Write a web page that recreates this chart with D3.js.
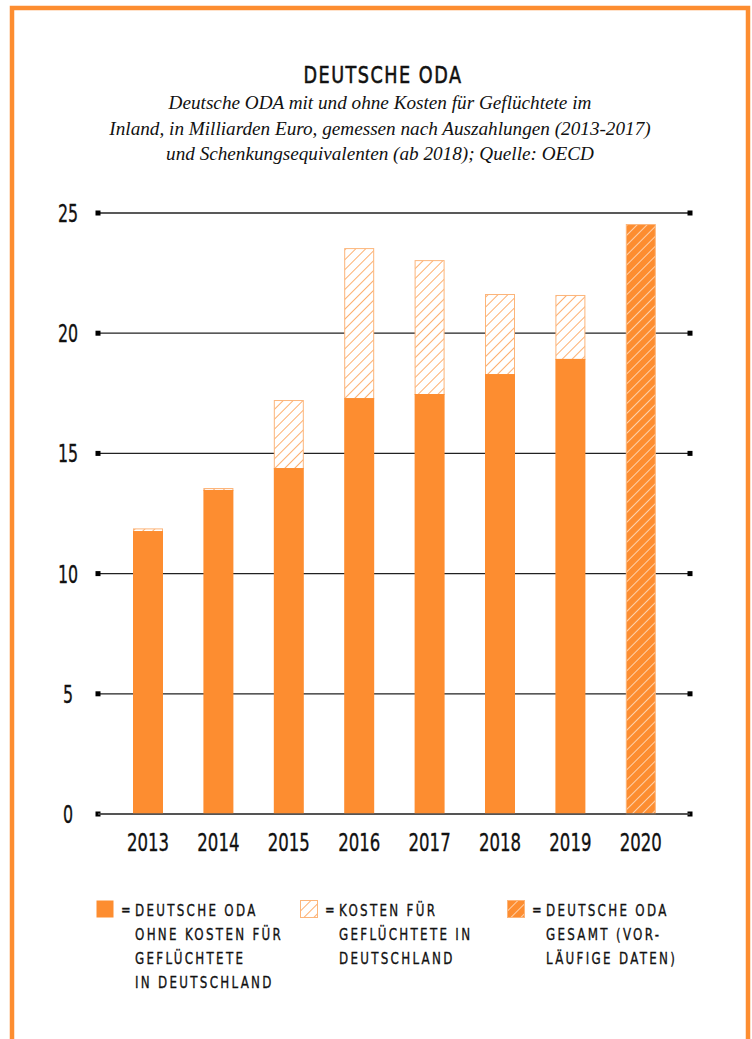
<!DOCTYPE html>
<html>
<head>
<meta charset="utf-8">
<script src="https://cdn.jsdelivr.net/npm/d3@7"></script>
<style>
  body { margin: 0; background: #fff; }
  .cond { font-family: "DejaVu Sans", sans-serif; fill: #111; stroke: #111; stroke-width: 0.35px; }
  .serif { font-family: "Liberation Serif", "DejaVu Serif", serif; font-style: italic; fill: #111; }
</style>
</head>
<body>
<div id="container"></div>
<script>
/* DATA */
const years = ["2013", "2014", "2015", "2016", "2017", "2018", "2019", "2020"];
// ODA ohne Kosten für Geflüchtete (null = nur Gesamtwert vorläufig)
const odaOhne = [11.77, 13.48, 14.39, 17.30, 17.47, 18.30, 18.93, null];
// Kosten für Geflüchtete im Inland
const kosten = [0.11, 0.08, 2.83, 6.24, 5.57, 3.33, 2.66, null];
// vorläufige Gesamt-ODA
const gesamtVorl = [null, null, null, null, null, null, null, 24.54];
const yTicks = [0, 5, 10, 15, 20, 25];

/* CONSTANTS */
const width = 752, height = 1039;
const orange = "#fd8d30";

const svg = d3.select("#container").append("svg")
  .attr("width", width)
  .attr("height", height);

// narrow text: the original uses a condensed face, so squeeze DejaVu horizontally
function condText(sel, x, y, sx) {
  return sel.attr("x", 0).attr("y", 0)
    .attr("transform", `translate(${x},${y}) scale(${sx},1)`);
}

const defs = svg.append("defs");
defs.append("pattern")
  .attr("id", "hatchLight")
  .attr("patternUnits", "userSpaceOnUse")
  .attr("width", 7).attr("height", 7)
  .attr("patternTransform", "rotate(45)")
  .call(p => {
    p.append("rect").attr("width", 7).attr("height", 7).attr("fill", "#fff");
    p.append("line").attr("x1", 0).attr("y1", 0).attr("x2", 0).attr("y2", 7)
      .attr("stroke", orange).attr("stroke-width", 1.4);
  });
defs.append("pattern")
  .attr("id", "hatchDark")
  .attr("patternUnits", "userSpaceOnUse")
  .attr("width", 7).attr("height", 7)
  .attr("patternTransform", "rotate(45)")
  .call(p => {
    p.append("rect").attr("width", 7).attr("height", 7).attr("fill", orange);
    p.append("line").attr("x1", 0).attr("y1", 0).attr("x2", 0).attr("y2", 7)
      .attr("stroke", "#fff").attr("stroke-width", 1.2);
  });

/* FRAME */
svg.append("path")
  .attr("d", `M12,${height} V8 H748 V${height}`)
  .attr("fill", "none")
  .attr("stroke", orange)
  .attr("stroke-width", 4.5);

/* TITLES */
svg.append("text")
  .attr("class", "cond")
  .attr("text-anchor", "middle")
  .style("font-size", "23.5px")
  .style("letter-spacing", "2px")
  .style("stroke-width", 0.6)
  .text("DEUTSCHE ODA")
  .call(condText, 383, 83, 0.75);

const sub = [
  "Deutsche ODA mit und ohne Kosten für Geflüchtete im",
  "Inland, in Milliarden Euro, gemessen nach Auszahlungen (2013-2017)",
  "und Schenkungsequivalenten (ab 2018); Quelle: OECD"
];
svg.append("g").selectAll("text")
  .data(sub)
  .join("text")
  .attr("class", "serif")
  .attr("x", 380)
  .attr("y", (d, i) => 109 + i * 25.5)
  .attr("text-anchor", "middle")
  .style("font-size", "19.2px")
  .text(d => d);

/* SCALES */
const xScale = d3.scaleBand()
  .domain(years)
  .range([112.8, 676])
  .paddingInner(0.574)
  .paddingOuter(0.287);

const yScale = d3.scaleLinear()
  .domain([0, 25])
  .range([814, 213]);

/* GRID */
const grid = svg.append("g");
grid.selectAll("line")
  .data(yTicks)
  .join("line")
  .attr("x1", 98).attr("x2", 690)
  .attr("y1", d => yScale(d)).attr("y2", d => yScale(d))
  .attr("stroke", "#222")
  .attr("stroke-width", 1.3);
grid.selectAll("rect.mk")
  .data(yTicks.flatMap(d => [[98, d], [690, d]]))
  .join("rect")
  .attr("class", "mk")
  .attr("x", d => d[0] - 2.5)
  .attr("y", d => yScale(d[1]) - 2.5)
  .attr("width", 5).attr("height", 5)
  .attr("fill", "#000");

svg.append("g").selectAll("text")
  .data(yTicks)
  .join("text")
  .attr("class", "cond")
  .attr("text-anchor", "middle")
  .style("font-size", "24px")
  .text(d => d)
  .each(function(d) { d3.select(this).call(condText, 68, yScale(d) + 9, 0.66); });

/* BARS */
const bars = svg.append("g");
years.forEach((yr, i) => {
  const x = xScale(yr), w = xScale.bandwidth();
  if (odaOhne[i] != null) {
    const top = odaOhne[i] + kosten[i];
    bars.append("rect")
      .attr("x", x + 0.5).attr("width", w - 1)
      .attr("y", yScale(top) + 0.5)
      .attr("height", yScale(odaOhne[i]) - yScale(top))
      .attr("fill", "url(#hatchLight)")
      .attr("stroke", "#fcb57a").attr("stroke-width", 1);
    bars.append("rect")
      .attr("x", x).attr("width", w)
      .attr("y", yScale(odaOhne[i]))
      .attr("height", yScale(0) - yScale(odaOhne[i]))
      .attr("fill", orange);
  } else {
    bars.append("rect")
      .attr("x", x + 0.5).attr("width", w - 1)
      .attr("y", yScale(gesamtVorl[i]) + 0.5)
      .attr("height", yScale(0) - yScale(gesamtVorl[i]) - 0.5)
      .attr("fill", "url(#hatchDark)")
      .attr("stroke", "#fcb57a").attr("stroke-width", 1);
  }
});

// baseline on top of the bars
svg.append("line")
  .attr("x1", 98).attr("x2", 690)
  .attr("y1", yScale(0)).attr("y2", yScale(0))
  .attr("stroke", "#555").attr("stroke-width", 1.3);

const xAxis = d3.axisBottom(xScale).tickSize(0).tickPadding(0);
svg.append("g")
  .attr("transform", `translate(0,${yScale(0)})`)
  .call(xAxis)
  .call(g => g.select(".domain").remove())
  .call(g => g.selectAll("text")
    .attr("class", "cond")
    .attr("y", 37).attr("dy", null)
    .attr("transform", "scale(0.69,1)")
    .style("font-size", "24px")
    .attr("fill", "#111"));

/* LEGEND */
const legend = [
  { x: 96, fill: orange, lines: ["DEUTSCHE ODA", "OHNE KOSTEN FÜR", "GEFLÜCHTETE", "IN DEUTSCHLAND"] },
  { x: 300, fill: "url(#hatchLight)", lines: ["KOSTEN FÜR", "GEFLÜCHTETE IN", "DEUTSCHLAND"] },
  { x: 507, fill: "url(#hatchDark)", lines: ["DEUTSCHE ODA", "GESAMT (VOR-", "LÄUFIGE DATEN)"] }
];
const lg = svg.append("g").selectAll("g")
  .data(legend)
  .join("g")
  .attr("transform", d => `translate(${d.x},0)`);
lg.append("rect")
  .attr("x", 0.5).attr("y", 900.5)
  .attr("width", 17).attr("height", 17)
  .attr("fill", d => d.fill)
  .attr("stroke", d => d.fill === orange ? "none" : "#fcb57a");
lg.append("text")
  .attr("class", "cond")
  .style("font-size", "16px")
  .text("=")
  .call(condText, 25, 915, 0.72);
lg.each(function(d) {
  d3.select(this).append("g").selectAll("text")
    .data(d.lines)
    .join("text")
    .attr("class", "cond")
    .style("font-size", "16.5px")
    .style("letter-spacing", "3.2px")
    .text(t => t)
    .each(function(t, i) { d3.select(this).call(condText, 39, 916 + i * 24, 0.72); });
});
</script>
</body>
</html>
